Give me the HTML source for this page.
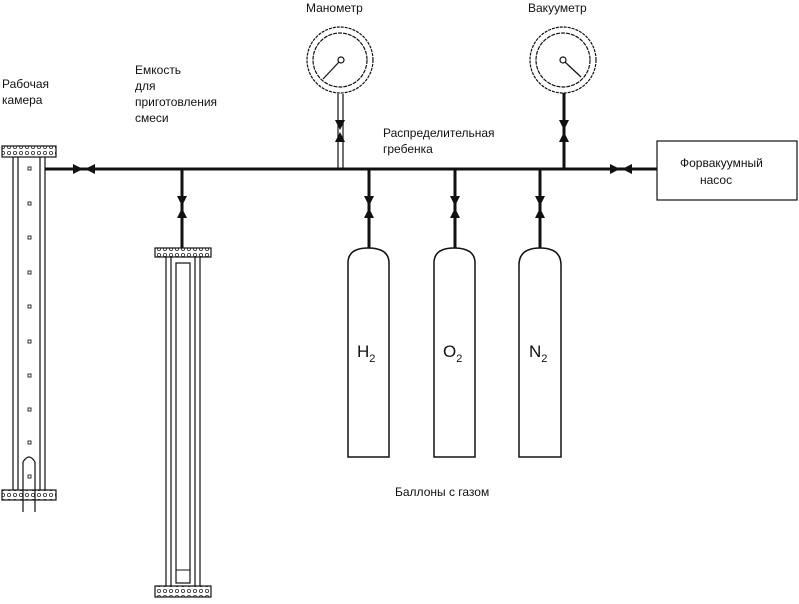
<!DOCTYPE html>
<html><head><meta charset="utf-8"><style>
html,body{margin:0;padding:0;background:#fff;}
svg{display:block;}
text{font-family:"Liberation Sans",sans-serif;font-size:12px;fill:#111;}
</style></head><body>
<svg width="799" height="604" viewBox="0 0 799 604" xmlns="http://www.w3.org/2000/svg">
<defs>
<pattern id="hatch" width="6" height="6" patternUnits="userSpaceOnUse">
<rect width="6" height="6" fill="#fff"/><circle cx="3" cy="3" r="1.6" fill="none" stroke="#333" stroke-width="0.8"/>
</pattern>
<g id="hv"><polygon points="-11,-5 -1,0 -11,5" fill="#111"/><polygon points="11,-5 1,0 11,5" fill="#111"/></g>
<g id="vv"><polygon points="-5,-11 5,-11 0,-1" fill="#111"/><polygon points="-5,11 5,11 0,1" fill="#111"/></g>
</defs>
<g stroke="#111" fill="none">
<line x1="45" y1="169" x2="657" y2="169" stroke-width="3"/>
<rect x="2" y="146" width="54" height="11" fill="url(#hatch)" stroke-width="1.2"/>
<line x1="13" y1="157" x2="13" y2="490" stroke-width="1.2"/>
<line x1="18" y1="157" x2="18" y2="490" stroke-width="1.2"/>
<line x1="40" y1="157" x2="40" y2="490" stroke-width="1.2"/>
<line x1="45" y1="157" x2="45" y2="490" stroke-width="1.2"/>
<rect x="2" y="490" width="54" height="10" fill="url(#hatch)" stroke-width="1.2"/>
<path d="M23,512 V462 Q29,452 35,462 V512" stroke-width="1.2"/>
<line x1="182" y1="169" x2="182" y2="248" stroke-width="3"/>
<rect x="155" y="248" width="56" height="9" fill="url(#hatch)" stroke-width="1.2"/>
<line x1="166" y1="257" x2="166" y2="586" stroke-width="1.2"/>
<line x1="171" y1="257" x2="171" y2="586" stroke-width="1.2"/>
<line x1="195" y1="257" x2="195" y2="586" stroke-width="1.2"/>
<line x1="200" y1="257" x2="200" y2="586" stroke-width="1.2"/>
<rect x="176" y="263" width="14" height="320" stroke-width="1.2"/>
<rect x="176" y="570" width="14" height="13" stroke-width="1"/>
<rect x="155" y="586" width="56" height="11" fill="url(#hatch)" stroke-width="1.2"/>
<circle cx="340" cy="60" r="33" stroke-width="1.2" stroke-dasharray="3,1"/>
<circle cx="340" cy="60" r="27" stroke-width="1.2" stroke-dasharray="4,1"/>
<circle cx="341" cy="60" r="3" stroke-width="1.2"/>
<line x1="339" y1="62" x2="323" y2="79" stroke-width="1.2"/>
<line x1="338" y1="94" x2="338" y2="169" stroke-width="1.2"/>
<line x1="343" y1="94" x2="343" y2="169" stroke-width="1.2"/>
<circle cx="563" cy="60" r="33" stroke-width="1.2" stroke-dasharray="3,1"/>
<circle cx="563" cy="60" r="27" stroke-width="1.2" stroke-dasharray="4,1"/>
<circle cx="563" cy="60" r="3" stroke-width="1.2"/>
<line x1="565" y1="62" x2="581" y2="77" stroke-width="1.2"/>
<line x1="564" y1="93" x2="564" y2="169" stroke-width="3"/>
<line x1="369" y1="169" x2="369" y2="248" stroke-width="3"/>
<line x1="455" y1="169" x2="455" y2="248" stroke-width="3"/>
<line x1="540" y1="169" x2="540" y2="248" stroke-width="3"/>
<path d="M348,457 V263 Q348,248 368,248 Q389,248 389,263 V457 Z" stroke-width="1.5"/>
<path d="M434,457 V263 Q434,248 454,248 Q475,248 475,263 V457 Z" stroke-width="1.5"/>
<path d="M519,457 V265 Q519,248 540,248 Q561,248 561,265 V457 Z" stroke-width="1.5"/>
<rect x="657" y="141" width="140" height="59" stroke-width="1.2"/>
</g>
<use href="#hv" x="84" y="169"/>
<use href="#hv" x="621" y="169"/>
<use href="#vv" x="182" y="207"/>
<use href="#vv" x="340" y="131"/>
<use href="#vv" x="564" y="131"/>
<use href="#vv" x="369" y="207"/>
<use href="#vv" x="455" y="207"/>
<use href="#vv" x="540" y="207"/>
<g fill="none" stroke="#333" stroke-width="1">
<rect x="28" y="167" width="3" height="3"/><rect x="28" y="202" width="3" height="3"/>
<rect x="28" y="236" width="3" height="3"/><rect x="28" y="271" width="3" height="3"/>
<rect x="28" y="305" width="3" height="3"/><rect x="28" y="340" width="3" height="3"/>
<rect x="28" y="374" width="3" height="3"/><rect x="28" y="408" width="3" height="3"/>
<rect x="28" y="441" width="3" height="3"/><rect x="28" y="475" width="3" height="3"/>
</g>
<text x="2" y="88">Рабочая</text>
<text x="2" y="104">камера</text>
<text x="135" y="74">Емкость</text>
<text x="135" y="90">для</text>
<text x="135" y="106">приготовления</text>
<text x="135" y="122">смеси</text>
<text x="306" y="12">Манометр</text>
<text x="528" y="12">Вакууметр</text>
<text x="383" y="137">Распределительная</text>
<text x="383" y="153">гребенка</text>
<text x="680" y="167">Форвакуумный</text>
<text x="700" y="184">насос</text>
<text x="395" y="496">Баллоны с газом</text>
<text x="357" y="357" style="font-size:17px">H<tspan style="font-size:11px" dy="5">2</tspan></text>
<text x="443" y="357" style="font-size:17px">O<tspan style="font-size:11px" dy="5">2</tspan></text>
<text x="529" y="357" style="font-size:17px">N<tspan style="font-size:11px" dy="5">2</tspan></text>
</svg>
</body></html>
